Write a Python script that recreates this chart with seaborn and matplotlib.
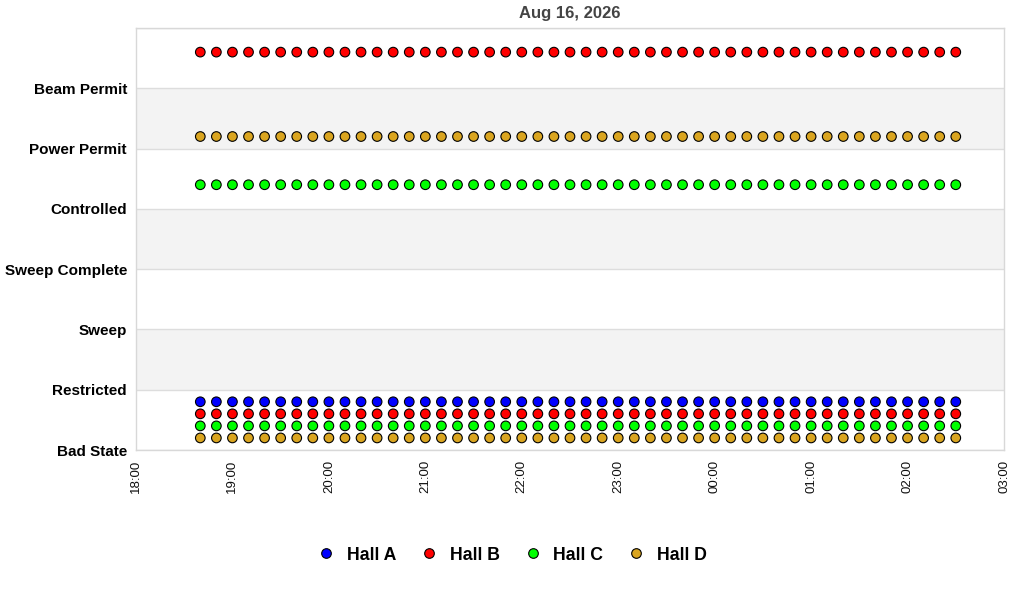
import pandas as pd
import matplotlib
matplotlib.use("Agg")
import matplotlib.pyplot as plt
import matplotlib.dates as mdates
import seaborn as sns

# states on the y axis, bottom to top
states = ['Bad State', 'Restricted', 'Sweep', 'Sweep Complete',
          'Controlled', 'Power Permit', 'Beam Permit']

halls = ['Hall A', 'Hall B', 'Hall C', 'Hall D']

# sample times, every 10 minutes from 18:40 to 02:30
times = pd.date_range('2026-08-16 18:40', '2026-08-17 02:30', freq='10min')

# states each hall shows at every sample time
hall_a_states = ['Bad State']
hall_b_states = ['Beam Permit', 'Bad State']
hall_c_states = ['Controlled', 'Bad State']
hall_d_states = ['Power Permit', 'Bad State']

# styling
colors = {'Hall A': '#0000FF', 'Hall B': '#FF0000',
          'Hall C': '#00FF00', 'Hall D': '#DAA520'}
row_offset = {'Hall A': 0.8, 'Hall B': 0.6, 'Hall C': 0.4, 'Hall D': 0.2}

hall_states = dict(zip(halls, [hall_a_states, hall_b_states, hall_c_states, hall_d_states]))
rows = []
for hall in halls:
    for st in hall_states[hall]:
        for t in times:
            rows.append({'time': t, 'hall': hall, 'state': st,
                         'y': states.index(st) + row_offset[hall]})
df = pd.DataFrame(rows)

sns.set_style('white')
plt.rcParams['font.family'] = ['Liberation Sans', 'DejaVu Sans']

fig = plt.figure(figsize=(10.24, 6), dpi=100)
ax = fig.add_axes([136 / 1024, 150 / 600, 868 / 1024, 422 / 600])

# alternating bands
for i in range(len(states) + 1):
    if i % 2 == 1:
        ax.axhspan(i, i + 1, color='#f3f3f3', zorder=0, lw=0)
    ax.axhline(i, color='#dddddd', lw=1, zorder=1)

sns.scatterplot(data=df, x='time', y='y', hue='hall', hue_order=halls,
                palette=colors, s=48, edgecolor='black', linewidth=0.8,
                ax=ax, zorder=3)

ax.set_ylim(0, 7)
ax.set_yticks(range(len(states)))
ax.set_yticklabels(states, fontweight='bold', fontsize=11, color='black')
ax.set_xlim(pd.Timestamp('2026-08-16 18:00'), pd.Timestamp('2026-08-17 03:00'))
ax.xaxis.set_major_locator(mdates.HourLocator())
ax.xaxis.set_major_formatter(mdates.DateFormatter('%H:%M'))
plt.setp(ax.get_xticklabels(), rotation=90, fontsize=9.5, color='#111111')
ax.tick_params(axis='both', length=0)
ax.tick_params(axis='y', pad=6.5)
ax.tick_params(axis='x', pad=7)
ax.set_xlabel('')
ax.set_ylabel('')
for sp in ax.spines.values():
    sp.set_color('#d8d8d8')
    sp.set_linewidth(1)

ax.set_title('Aug 16, 2026', fontweight='bold', fontsize=12, color='#444444', pad=7)

handles, labels = ax.get_legend_handles_labels()
ax.get_legend().remove()
fig.legend(handles, labels, loc='center', bbox_to_anchor=(0.5, 1 - 555 / 600),
           ncol=4, frameon=False, prop={'weight': 'bold', 'size': 12.7},
           handlelength=1.0, handletextpad=0.69, columnspacing=1.36,
           labelcolor='black')

fig.savefig('out.png', dpi=100)
